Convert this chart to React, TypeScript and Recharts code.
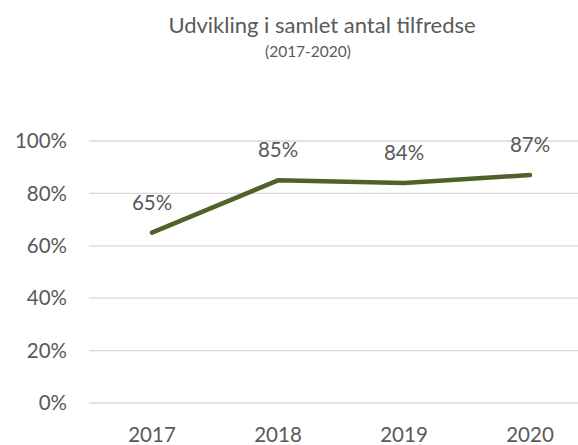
import React from "react";
import { LineChart, Line, XAxis, YAxis, CartesianGrid, LabelList } from "recharts";

const years = ["2017", "2018", "2019", "2020"];
const satisfied = [0.65, 0.85, 0.84, 0.87];
const yTicks = [0, 0.2, 0.4, 0.6, 0.8, 1];

const data = years.map((year, i) => ({ year, value: satisfied[i] }));

const pct = (v: number) => `${Math.round(v * 100)}%`;
const font = "Lato, 'Open Sans', sans-serif";
const textColor = "#595959";

export default function App() {
  return (
    <div style={{ position: "fixed", left: 0, top: 0, width: 578, height: 445, overflow: "hidden", background: "#fff" }}>
      <svg width={578} height={70} style={{ position: "absolute", left: 0, top: 0 }}>
        <text x={322} y={33} textAnchor="middle" fontFamily={font} fontSize={22} fill={textColor}>
          Udvikling i samlet antal tilfredse
        </text>
        <text x={308} y={57} textAnchor="middle" fontFamily={font} fontSize={15.5} fill={textColor}>
          (2017-2020)
        </text>
      </svg>
      <LineChart width={620} height={445} data={data} margin={{ top: 141, right: 27, left: 29, bottom: 12 }}>
        <CartesianGrid vertical={false} stroke="#d9d9d9" strokeWidth={1.3} />
        <XAxis
          dataKey="year"
          axisLine={false}
          tickLine={false}
          tickSize={0}
          tickMargin={24}
          height={30}
          padding={{ left: 63, right: 63 }}
          tick={{ fill: textColor, fontSize: 20.5, fontFamily: font }}
        />
        <YAxis
          domain={[0, 1]}
          ticks={yTicks}
          tickFormatter={pct}
          axisLine={false}
          tickLine={false}
          tickSize={0}
          tickMargin={22}
          width={60}
          tick={{ fill: textColor, fontSize: 20.5, fontFamily: font }}
        />
        <Line
          type="linear"
          dataKey="value"
          stroke="#4f6228"
          strokeWidth={4.5}
          strokeLinecap="round"
          strokeLinejoin="round"
          dot={false}
          activeDot={false}
          isAnimationActive={false}
        >
          <LabelList
            dataKey="value"
            position="top"
            offset={23}
            formatter={(v: any) => pct(Number(v))}
            fill={textColor}
            fontSize={20.5}
            fontFamily={font}
          />
        </Line>
      </LineChart>
    </div>
  );
}
